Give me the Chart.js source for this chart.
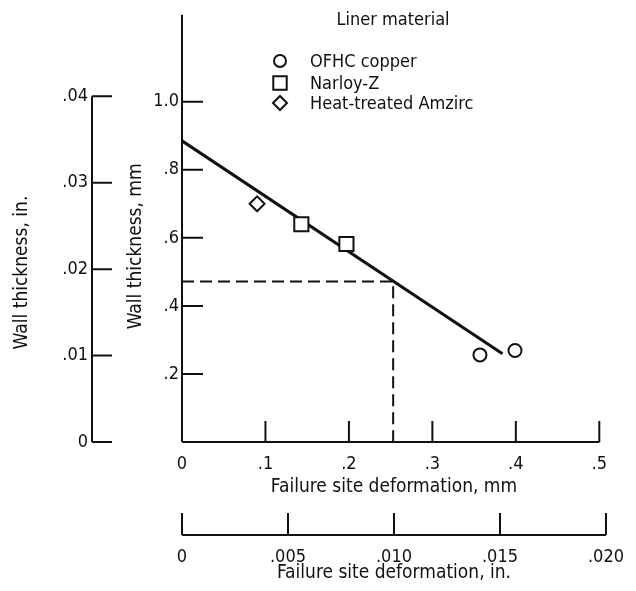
<!DOCTYPE html>
<html>
<head>
<meta charset="utf-8">
<script src="https://cdn.jsdelivr.net/npm/chart.js@4/dist/chart.umd.min.js"></script>
<style>
  html, body { margin: 0; padding: 0; background: #fff; }
  #wrap { width: 636px; height: 591px; position: relative; }
</style>
</head>
<body>
<div id="wrap"><canvas id="c" width="636" height="591"></canvas></div>
<script>
// Tick positions and labels
const xMmTicks = [0, 0.1, 0.2, 0.3, 0.4, 0.5];
const xMmLabels = ['0', '.1', '.2', '.3', '.4', '.5'];
const xInTicks = [0, 0.005, 0.010, 0.015, 0.020];
const xInLabels = ['0', '.005', '.010', '.015', '.020'];
const yMmTicks = [0.2, 0.4, 0.6, 0.8, 1.0];
const yMmLabels = ['.2', '.4', '.6', '.8', '1.0'];
const yInTicks = [0, 0.01, 0.02, 0.03, 0.04];
const yInLabels = ['0', '.01', '.02', '.03', '.04'];

// Measured points (deformation mm, wall thickness mm)
const materials = ['OFHC copper', 'Narloy-Z', 'Heat-treated Amzirc'];
const copperX = [0.357, 0.399];
const copperY = [0.256, 0.269];
const narloyX = [0.143, 0.197];
const narloyY = [0.640, 0.582];
const amzircX = [0.090];
const amzircY = [0.700];

// Fitted line and the read-off guide
const fitX = [0, 0.384];
const fitY = [0.885, 0.259];
const guideX = [0, 0.253, 0.253];
const guideY = [0.472, 0.472, 0];

const MM_PER_IN = 25.4;
const X_MAX_MM = 0.508;   // = .020 in
const Y_MAX_MM = 1.2555;

const FONT = "'Liberation Sans Narrow', 'DejaVu Sans Condensed', 'Liberation Sans', sans-serif";
const INK = '#111';

const pts = (xs, ys) => xs.map((x, i) => ({ x: x, y: ys[i] }));
const fixedTicks = (vals) => (scale) => { scale.ticks = vals.map(v => ({ value: v })); };
const labelFrom = (vals, labels) => (value) => {
  const i = vals.findIndex(v => Math.abs(v - value) < 1e-9);
  return i >= 0 ? labels[i] : '';
};

const markerStyles = ['circle', 'rect', 'rectRot'];
const markerRadius = [6.5, 10, 7.5];

// Axis lines, inward tick marks and the vertical axis titles
const axisFrame = {
  id: 'axisFrame',
  afterDatasetsDraw(chart) {
    const { ctx, chartArea, scales } = chart;
    const { x, xIn, y, yIn } = scales;
    ctx.save();
    ctx.strokeStyle = INK;
    ctx.lineWidth = 2;
    ctx.lineCap = 'butt';
    ctx.beginPath();
    // wall thickness, mm
    ctx.moveTo(chartArea.left, chartArea.top);
    ctx.lineTo(chartArea.left, chartArea.bottom);
    yMmTicks.forEach(v => {
      const py = y.getPixelForValue(v);
      ctx.moveTo(chartArea.left, py);
      ctx.lineTo(chartArea.left + 21, py);
    });
    // deformation, mm
    ctx.moveTo(chartArea.left, chartArea.bottom);
    ctx.lineTo(x.getPixelForValue(xMmTicks[xMmTicks.length - 1]), chartArea.bottom);
    xMmTicks.forEach(v => {
      if (v === 0) return;
      const px = x.getPixelForValue(v);
      ctx.moveTo(px, chartArea.bottom);
      ctx.lineTo(px, chartArea.bottom - 21);
    });
    // wall thickness, in.
    const lx = yIn.right;
    ctx.moveTo(lx, yIn.getPixelForValue(yInTicks[0]));
    ctx.lineTo(lx, yIn.getPixelForValue(yInTicks[yInTicks.length - 1]));
    yInTicks.forEach(v => {
      const py = yIn.getPixelForValue(v);
      ctx.moveTo(lx, py);
      ctx.lineTo(lx + 20, py);
    });
    // deformation, in.
    const by = xIn.top;
    ctx.moveTo(xIn.getPixelForValue(xInTicks[0]), by);
    ctx.lineTo(xIn.getPixelForValue(xInTicks[xInTicks.length - 1]), by);
    xInTicks.forEach(v => {
      const px = xIn.getPixelForValue(v);
      ctx.moveTo(px, by);
      ctx.lineTo(px, by - 22);
    });
    ctx.stroke();

    // vertical axis titles, set a little below the middle of the axes
    ctx.fillStyle = INK;
    ctx.font = '19px ' + FONT;
    ctx.textAlign = 'center';
    ctx.textBaseline = 'middle';
    const vTitle = (text, cx, cy) => {
      ctx.save();
      ctx.translate(cx, cy);
      ctx.rotate(-Math.PI / 2);
      ctx.fillText(text, 0, 0);
      ctx.restore();
    };
    vTitle('Wall thickness, in.', yIn.left + 22, y.getPixelForValue(0.498));
    vTitle('Wall thickness, mm', y.left + 44, y.getPixelForValue(0.575));
    ctx.restore();
  }
};

// Key for the liner materials
const materialKey = {
  id: 'materialKey',
  afterDraw(chart) {
    const { ctx } = chart;
    ctx.save();
    ctx.fillStyle = INK;
    ctx.font = '18px ' + FONT;
    ctx.textBaseline = 'middle';
    ctx.textAlign = 'center';
    ctx.fillText('Liner material', 393, 20);
    ctx.textAlign = 'left';
    const rows = [61, 83, 103];
    const keyRadius = [6, 9.5, 7];
    materials.forEach((name, i) => {
      const ds = chart.data.datasets[i];
      ctx.save();
      ctx.strokeStyle = INK;
      ctx.fillStyle = '#fff';
      ctx.lineWidth = 2;
      if (Chart.helpers && Chart.helpers.drawPoint) {
        Chart.helpers.drawPoint(ctx, { pointStyle: ds.pointStyle, radius: keyRadius[i], rotation: 0, borderWidth: 2 }, 280, rows[i]);
      }
      ctx.restore();
      ctx.fillText(name, 310, rows[i] + 1);
    });
    ctx.restore();
  }
};

const tickFont = { family: FONT, size: 18 };
const titleFont = { family: FONT, size: 19 };

new Chart(document.getElementById('c'), {
  type: 'scatter',
  data: {
    datasets: [
      { label: materials[0], data: pts(copperX, copperY) },
      { label: materials[1], data: pts(narloyX, narloyY) },
      { label: materials[2], data: pts(amzircX, amzircY) },
      { label: 'fit', data: pts(fitX, fitY), showLine: true, borderColor: INK, borderWidth: 3, pointRadius: 0 },
      { label: 'guide', data: pts(guideX, guideY), showLine: true, borderColor: INK, borderWidth: 2, borderDash: [12, 6], pointRadius: 0 }
    ].map((ds, i) => i < 3 ? Object.assign(ds, {
      pointStyle: markerStyles[i],
      pointRadius: markerRadius[i],
      pointBorderWidth: 2,
      pointBorderColor: INK,
      pointBackgroundColor: '#fff',
      showLine: false
    }) : ds)
  },
  options: {
    responsive: false,
    animation: false,
    devicePixelRatio: 1,
    layout: { padding: { top: 12, right: 24, left: 0, bottom: 0 } },
    plugins: { legend: { display: false }, tooltip: { enabled: false } },
    scales: {
      x: {
        type: 'linear', position: 'bottom', weight: 0,
        min: 0, max: X_MAX_MM,
        afterBuildTicks: fixedTicks(xMmTicks),
        afterFit: (s) => { s.height = 93; },
        grid: { display: false, drawTicks: false }, border: { display: false },
        ticks: { color: INK, font: tickFont, padding: 12, maxRotation: 0, autoSkip: false, callback: labelFrom(xMmTicks, xMmLabels) },
        title: { display: true, text: 'Failure site deformation, mm', color: INK, font: titleFont, padding: { top: 0, bottom: 37 } }
      },
      xIn: {
        type: 'linear', position: 'bottom', weight: 1,
        min: 0, max: X_MAX_MM / MM_PER_IN,
        afterBuildTicks: fixedTicks(xInTicks),
        afterFit: (s) => { s.height = 56; },
        grid: { display: false, drawTicks: false }, border: { display: false },
        ticks: { color: INK, font: tickFont, padding: 12, maxRotation: 0, autoSkip: false, callback: labelFrom(xInTicks, xInLabels) },
        title: { display: true, text: 'Failure site deformation, in.', color: INK, font: titleFont, padding: { top: 0, bottom: 7 } }
      },
      y: {
        type: 'linear', position: 'left', weight: 0,
        min: 0, max: Y_MAX_MM,
        afterBuildTicks: fixedTicks(yMmTicks),
        afterFit: (s) => { s.width = 90; },
        grid: { display: false, drawTicks: false }, border: { display: false },
        ticks: { color: INK, font: tickFont, padding: 3, autoSkip: false, callback: labelFrom(yMmTicks, yMmLabels) },
        title: { display: false }
      },
      yIn: {
        type: 'linear', position: 'left', weight: 1,
        min: 0, max: Y_MAX_MM / MM_PER_IN,
        afterBuildTicks: fixedTicks(yInTicks),
        afterFit: (s) => { s.width = 92; },
        grid: { display: false, drawTicks: false }, border: { display: false },
        ticks: { color: INK, font: tickFont, padding: 4, autoSkip: false, callback: labelFrom(yInTicks, yInLabels) },
        title: { display: false }
      }
    }
  },
  plugins: [axisFrame, materialKey]
});
</script>
</body>
</html>
